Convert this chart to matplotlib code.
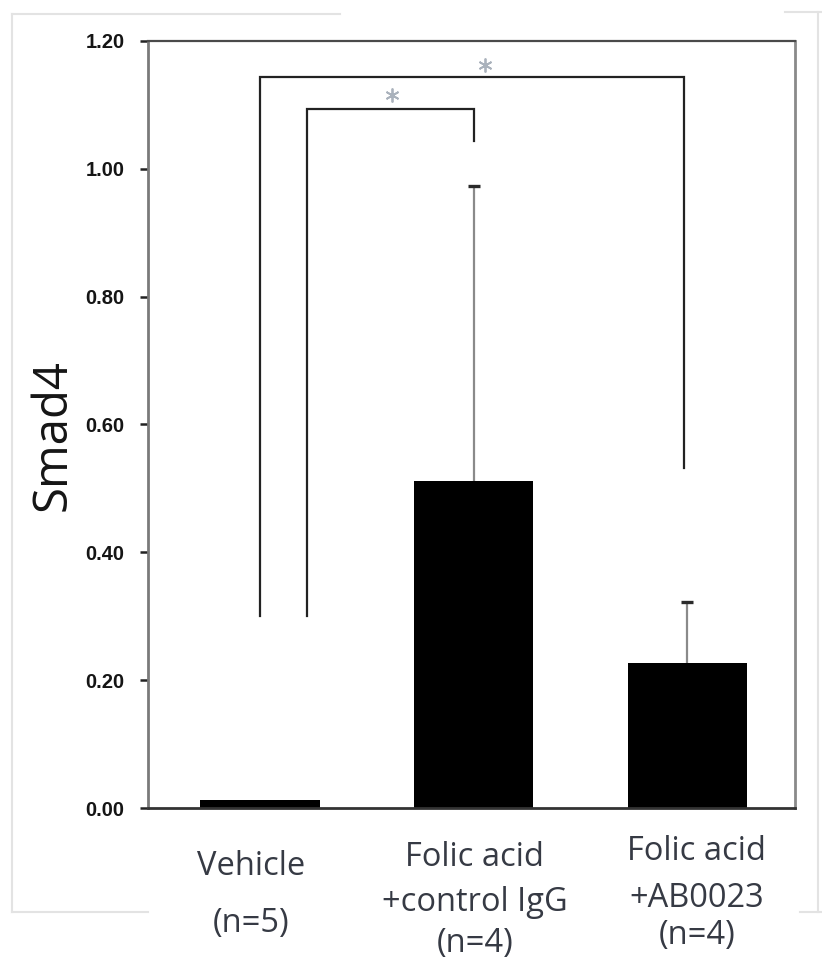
import matplotlib
matplotlib.use("Agg")
import matplotlib.pyplot as plt
from matplotlib.transforms import blended_transform_factory
from matplotlib.lines import Line2D

# values
groups = ["Vehicle", "Folic acid +control IgG", "Folic acid +AB0023"]
means = [0.012, 0.511, 0.227]
err_upper = [0.0, 0.462, 0.096]
tick_vals = [0.0, 0.2, 0.4, 0.6, 0.8, 1.0, 1.2]

# x-axis label lines per group
label_lines = [
    ["Vehicle", "(n=5)"],
    ["Folic acid", "+control IgG", "(n=4)"],
    ["Folic acid", "+AB0023", "(n=4)"],
]

# significance brackets: x_left, x_right, y_top, y_left_end, y_right_end
brackets = [
    (0.0, 1.985, 1.144, 0.30, 0.532),
    (0.22, 1.0, 1.094, 0.30, 1.044),
]
star_x = [1.053, 0.617]
star_y = [1.162, 1.116]

W, H = 822, 965
fig = plt.figure(figsize=(W / 100, H / 100), dpi=100)
fig.patch.set_facecolor("white")

# faint screenshot frame
frame_col = "#e3e3e3"
for xs, ys in [((12, 340), (14, 14)), ((785, 822), (12, 12)),
               ((12, 12), (14, 912)), ((12, 148), (912, 912)),
               ((818, 818), (12, 912)), ((800, 822), (912, 912))]:
    fig.add_artist(Line2D([x / W for x in xs], [1 - y / H for y in ys],
                          color=frame_col, lw=1.5, transform=fig.transFigure))

ax = fig.add_axes([148.3 / W, 1 - 808 / H, (795 - 148.3) / W, (808 - 41) / H])

x = list(range(len(groups)))
ax.bar(x, means, width=0.56, color="black", zorder=2)

idx = [i for i in x if err_upper[i] > 0]
eb = ax.errorbar([x[i] for i in idx], [means[i] for i in idx],
                 yerr=[[0] * len(idx), [err_upper[i] for i in idx]],
                 fmt="none", ecolor="#8a8a8a", elinewidth=1.6,
                 capsize=4, capthick=2.4, zorder=3)
for cap in eb[1]:
    cap.set_markeredgecolor("#2a2a2a")
    if list(cap.get_ydata()) == [means[i] for i in idx]:
        cap.set_visible(False)

for xl, xr, yt, yl, yr in brackets:
    ax.plot([xl, xl, xr, xr], [yl, yt, yt, yr], color="#222222", lw=1.6,
            solid_joinstyle="miter", zorder=4)
ax.plot(star_x, star_y, linestyle="none", marker=(6, 2, 0), ms=10,
        mew=1.3, color="#aab2bc", zorder=5)

ax.set_xlim(-0.521, 2.503)
ax.set_ylim(0, 1.2)
ax.set_yticks(tick_vals)
ax.set_yticklabels([f"{v:.2f}" for v in tick_vals], fontsize=14.5,
                   fontweight="bold", family=["Liberation Sans", "DejaVu Sans"],
                   color="#151515")
ax.set_xticks([])
ax.tick_params(axis="y", direction="out", length=6, width=1.8,
               color="#222222", pad=11)

ax.spines["left"].set_color("#7a7a7a")
ax.spines["left"].set_linewidth(2.0)
ax.spines["right"].set_color("#8a8a8a")
ax.spines["right"].set_linewidth(2.0)
ax.spines["top"].set_color("#4a4a4a")
ax.spines["top"].set_linewidth(1.6)
ax.spines["bottom"].set_color("#333333")
ax.spines["bottom"].set_linewidth(2.0)

fig.text(53 / W, 1 - 435 / H, "Smad4", rotation=90, ha="center", va="center",
         fontsize=34, family=["Open Sans", "DejaVu Sans"], color="#151515")

# category labels under the axis
label_x = [-0.04, 1.005, 2.044]
baselines = [[875, 932], [866, 911, 952], [860, 907, 944]]
trans = blended_transform_factory(ax.transData, fig.transFigure)
for gx, lines, bls in zip(label_x, label_lines, baselines):
    for txt, b in zip(lines, bls):
        ax.text(gx, 1 - b / H, txt, transform=trans, ha="center",
                va="baseline", fontsize=23.5, family=["Open Sans", "DejaVu Sans"],
                color="#363a44", clip_on=False)

fig.savefig("out.png", dpi=100)
